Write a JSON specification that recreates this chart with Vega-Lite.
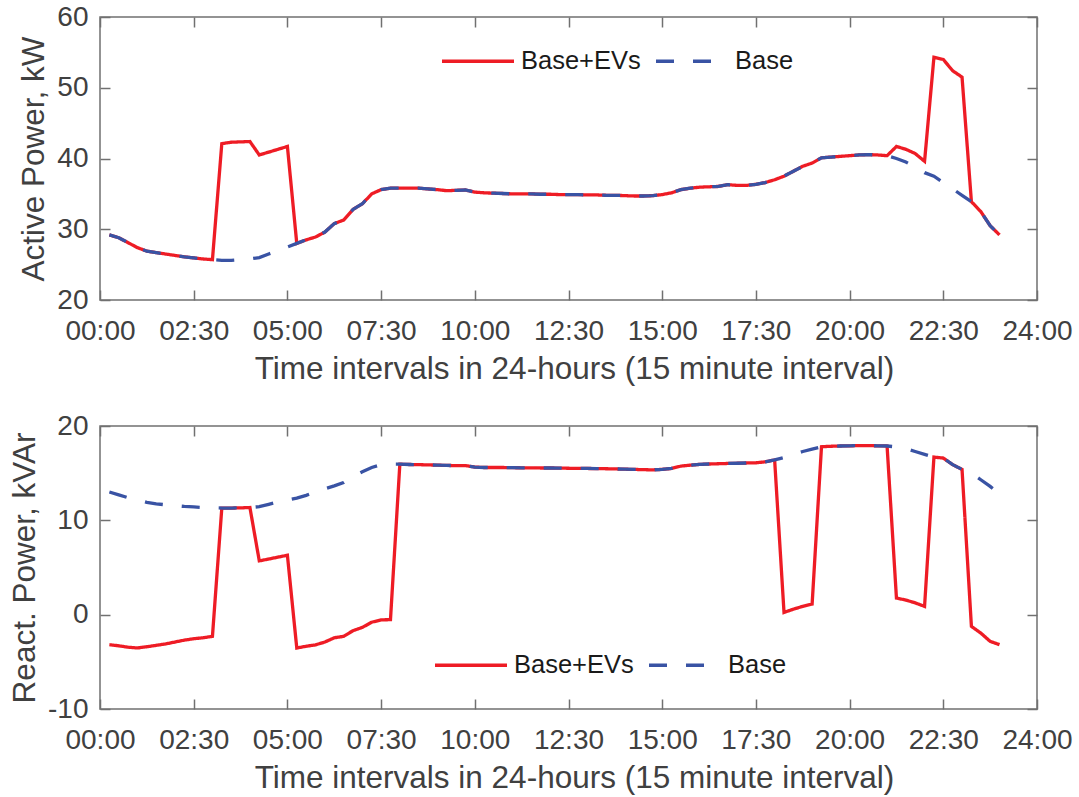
{
  "$schema": "https://vega.github.io/schema/vega-lite/v6.json",
  "background": "white",
  "padding": {"left": 8, "top": 2, "right": 10, "bottom": 5},
  "config": {
    "font": "Liberation Sans",
    "view": {"stroke": "#707070", "strokeWidth": 1.5},
    "axis": {"grid": false, "domain": false, "tickSize": 10, "offset": -10, "tickColor": "#707070", "tickWidth": 1.5,
      "labelOverlap": false, "labelFlush": false,
      "labelFontSize": 28, "labelColor": "#404040", "labelFont": "Liberation Sans",
      "titleFontSize": 31.5, "titleFontWeight": "normal", "titleColor": "#404040", "titleFont": "Liberation Sans"},
    "legend": {"labelFont": "Liberation Sans"}
  },
  "data": {"values": [
    {"t":1,"s":"Base","p":29.2,"q":13.0},{"t":2,"s":"Base","p":28.8,"q":12.7},{"t":3,"s":"Base","p":28.1,"q":12.4},{"t":4,"s":"Base","p":27.4,"q":12.15},{"t":5,"s":"Base","p":26.9,"q":11.9},{"t":6,"s":"Base","p":26.7,"q":11.75},{"t":7,"s":"Base","p":26.5,"q":11.65},{"t":8,"s":"Base","p":26.3,"q":11.55},{"t":9,"s":"Base","p":26.1,"q":11.47},{"t":10,"s":"Base","p":25.95,"q":11.42},
    {"t":11,"s":"Base","p":25.8,"q":11.36},{"t":12,"s":"Base","p":25.7,"q":11.33},{"t":13,"s":"Base","p":25.6,"q":11.3},{"t":14,"s":"Base","p":25.6,"q":11.3},{"t":15,"s":"Base","p":25.7,"q":11.32},{"t":16,"s":"Base","p":25.8,"q":11.36},{"t":17,"s":"Base","p":26.0,"q":11.45},{"t":18,"s":"Base","p":26.5,"q":11.7},{"t":19,"s":"Base","p":27.0,"q":11.95},{"t":20,"s":"Base","p":27.5,"q":12.15},
    {"t":21,"s":"Base","p":28.0,"q":12.35},{"t":22,"s":"Base","p":28.5,"q":12.65},{"t":23,"s":"Base","p":28.9,"q":13.0},{"t":24,"s":"Base","p":29.6,"q":13.35},{"t":25,"s":"Base","p":30.8,"q":13.65},{"t":26,"s":"Base","p":31.3,"q":14.0},{"t":27,"s":"Base","p":32.8,"q":14.65},{"t":28,"s":"Base","p":33.6,"q":15.15},{"t":29,"s":"Base","p":35.0,"q":15.6},{"t":30,"s":"Base","p":35.6,"q":15.9},
    {"t":31,"s":"Base","p":35.8,"q":15.95},{"t":32,"s":"Base","p":35.8,"q":15.95},{"t":33,"s":"Base","p":35.8,"q":15.92},{"t":34,"s":"Base","p":35.8,"q":15.9},{"t":35,"s":"Base","p":35.7,"q":15.88},{"t":36,"s":"Base","p":35.6,"q":15.85},{"t":37,"s":"Base","p":35.45,"q":15.82},{"t":38,"s":"Base","p":35.5,"q":15.8},{"t":39,"s":"Base","p":35.55,"q":15.8},{"t":40,"s":"Base","p":35.25,"q":15.65},
    {"t":41,"s":"Base","p":35.15,"q":15.6},{"t":42,"s":"Base","p":35.1,"q":15.6},{"t":43,"s":"Base","p":35.05,"q":15.6},{"t":44,"s":"Base","p":35.0,"q":15.58},{"t":45,"s":"Base","p":35.0,"q":15.57},{"t":46,"s":"Base","p":35.0,"q":15.56},{"t":47,"s":"Base","p":34.95,"q":15.55},{"t":48,"s":"Base","p":34.95,"q":15.55},{"t":49,"s":"Base","p":34.9,"q":15.54},{"t":50,"s":"Base","p":34.9,"q":15.52},
    {"t":51,"s":"Base","p":34.9,"q":15.5},{"t":52,"s":"Base","p":34.85,"q":15.5},{"t":53,"s":"Base","p":34.85,"q":15.48},{"t":54,"s":"Base","p":34.8,"q":15.47},{"t":55,"s":"Base","p":34.8,"q":15.45},{"t":56,"s":"Base","p":34.75,"q":15.42},{"t":57,"s":"Base","p":34.7,"q":15.4},{"t":58,"s":"Base","p":34.7,"q":15.37},{"t":59,"s":"Base","p":34.75,"q":15.35},{"t":60,"s":"Base","p":34.9,"q":15.4},
    {"t":61,"s":"Base","p":35.15,"q":15.5},{"t":62,"s":"Base","p":35.6,"q":15.75},{"t":63,"s":"Base","p":35.8,"q":15.85},{"t":64,"s":"Base","p":35.95,"q":15.93},{"t":65,"s":"Base","p":36.0,"q":15.97},{"t":66,"s":"Base","p":36.05,"q":16.0},{"t":67,"s":"Base","p":36.3,"q":16.03},{"t":68,"s":"Base","p":36.2,"q":16.05},{"t":69,"s":"Base","p":36.2,"q":16.08},{"t":70,"s":"Base","p":36.35,"q":16.1},
    {"t":71,"s":"Base","p":36.6,"q":16.2},{"t":72,"s":"Base","p":37.0,"q":16.4},{"t":73,"s":"Base","p":37.5,"q":16.65},{"t":74,"s":"Base","p":38.2,"q":17.0},{"t":75,"s":"Base","p":38.9,"q":17.3},{"t":76,"s":"Base","p":39.35,"q":17.55},{"t":77,"s":"Base","p":40.1,"q":17.8},{"t":78,"s":"Base","p":40.2,"q":17.85},{"t":79,"s":"Base","p":40.3,"q":17.88},{"t":80,"s":"Base","p":40.4,"q":17.9},
    {"t":81,"s":"Base","p":40.5,"q":17.92},{"t":82,"s":"Base","p":40.55,"q":17.92},{"t":83,"s":"Base","p":40.5,"q":17.9},{"t":84,"s":"Base","p":40.4,"q":17.88},{"t":85,"s":"Base","p":40.0,"q":17.78},{"t":86,"s":"Base","p":39.5,"q":17.6},{"t":87,"s":"Base","p":38.8,"q":17.3},{"t":88,"s":"Base","p":38.0,"q":17.0},{"t":89,"s":"Base","p":37.5,"q":16.7},{"t":90,"s":"Base","p":36.6,"q":16.6},
    {"t":91,"s":"Base","p":35.7,"q":15.9},{"t":92,"s":"Base","p":34.8,"q":15.4},{"t":93,"s":"Base","p":33.9,"q":15.0},{"t":94,"s":"Base","p":32.5,"q":14.3},{"t":95,"s":"Base","p":30.5,"q":13.6},{"t":96,"s":"Base","p":29.2,"q":12.8},

    {"t":1,"s":"Base+EVs","p":29.2,"q":-3.18},{"t":2,"s":"Base+EVs","p":28.8,"q":-3.3},{"t":3,"s":"Base+EVs","p":28.1,"q":-3.45},{"t":4,"s":"Base+EVs","p":27.4,"q":-3.53},{"t":5,"s":"Base+EVs","p":26.9,"q":-3.4},{"t":6,"s":"Base+EVs","p":26.7,"q":-3.25},{"t":7,"s":"Base+EVs","p":26.5,"q":-3.1},{"t":8,"s":"Base+EVs","p":26.3,"q":-2.9},{"t":9,"s":"Base+EVs","p":26.1,"q":-2.7},{"t":10,"s":"Base+EVs","p":25.95,"q":-2.55},
    {"t":11,"s":"Base+EVs","p":25.8,"q":-2.45},{"t":12,"s":"Base+EVs","p":25.7,"q":-2.3},{"t":13,"s":"Base+EVs","p":42.1,"q":11.3},{"t":14,"s":"Base+EVs","p":42.3,"q":11.3},{"t":15,"s":"Base+EVs","p":42.35,"q":11.32},{"t":16,"s":"Base+EVs","p":42.4,"q":11.36},{"t":17,"s":"Base+EVs","p":40.5,"q":5.7},{"t":18,"s":"Base+EVs","p":40.9,"q":5.9},{"t":19,"s":"Base+EVs","p":41.3,"q":6.1},{"t":20,"s":"Base+EVs","p":41.7,"q":6.3},
    {"t":21,"s":"Base+EVs","p":28.0,"q":-3.53},{"t":22,"s":"Base+EVs","p":28.5,"q":-3.35},{"t":23,"s":"Base+EVs","p":28.9,"q":-3.2},{"t":24,"s":"Base+EVs","p":29.6,"q":-2.9},{"t":25,"s":"Base+EVs","p":30.8,"q":-2.45},{"t":26,"s":"Base+EVs","p":31.3,"q":-2.3},{"t":27,"s":"Base+EVs","p":32.8,"q":-1.7},{"t":28,"s":"Base+EVs","p":33.6,"q":-1.35},{"t":29,"s":"Base+EVs","p":35.0,"q":-0.8},{"t":30,"s":"Base+EVs","p":35.6,"q":-0.55},
    {"t":31,"s":"Base+EVs","p":35.8,"q":-0.53},{"t":32,"s":"Base+EVs","p":35.8,"q":15.95},{"t":33,"s":"Base+EVs","p":35.8,"q":15.92},{"t":34,"s":"Base+EVs","p":35.8,"q":15.9},{"t":35,"s":"Base+EVs","p":35.7,"q":15.88},{"t":36,"s":"Base+EVs","p":35.6,"q":15.85},{"t":37,"s":"Base+EVs","p":35.45,"q":15.82},{"t":38,"s":"Base+EVs","p":35.5,"q":15.8},{"t":39,"s":"Base+EVs","p":35.55,"q":15.8},{"t":40,"s":"Base+EVs","p":35.25,"q":15.65},
    {"t":41,"s":"Base+EVs","p":35.15,"q":15.6},{"t":42,"s":"Base+EVs","p":35.1,"q":15.6},{"t":43,"s":"Base+EVs","p":35.05,"q":15.6},{"t":44,"s":"Base+EVs","p":35.0,"q":15.58},{"t":45,"s":"Base+EVs","p":35.0,"q":15.57},{"t":46,"s":"Base+EVs","p":35.0,"q":15.56},{"t":47,"s":"Base+EVs","p":34.95,"q":15.55},{"t":48,"s":"Base+EVs","p":34.95,"q":15.55},{"t":49,"s":"Base+EVs","p":34.9,"q":15.54},{"t":50,"s":"Base+EVs","p":34.9,"q":15.52},
    {"t":51,"s":"Base+EVs","p":34.9,"q":15.5},{"t":52,"s":"Base+EVs","p":34.85,"q":15.5},{"t":53,"s":"Base+EVs","p":34.85,"q":15.48},{"t":54,"s":"Base+EVs","p":34.8,"q":15.47},{"t":55,"s":"Base+EVs","p":34.8,"q":15.45},{"t":56,"s":"Base+EVs","p":34.75,"q":15.42},{"t":57,"s":"Base+EVs","p":34.7,"q":15.4},{"t":58,"s":"Base+EVs","p":34.7,"q":15.37},{"t":59,"s":"Base+EVs","p":34.75,"q":15.35},{"t":60,"s":"Base+EVs","p":34.9,"q":15.4},
    {"t":61,"s":"Base+EVs","p":35.15,"q":15.5},{"t":62,"s":"Base+EVs","p":35.6,"q":15.75},{"t":63,"s":"Base+EVs","p":35.8,"q":15.85},{"t":64,"s":"Base+EVs","p":35.95,"q":15.93},{"t":65,"s":"Base+EVs","p":36.0,"q":15.97},{"t":66,"s":"Base+EVs","p":36.05,"q":16.0},{"t":67,"s":"Base+EVs","p":36.3,"q":16.03},{"t":68,"s":"Base+EVs","p":36.2,"q":16.05},{"t":69,"s":"Base+EVs","p":36.2,"q":16.08},{"t":70,"s":"Base+EVs","p":36.35,"q":16.1},
    {"t":71,"s":"Base+EVs","p":36.6,"q":16.2},{"t":72,"s":"Base+EVs","p":37.0,"q":16.4},{"t":73,"s":"Base+EVs","p":37.5,"q":0.24},{"t":74,"s":"Base+EVs","p":38.2,"q":0.58},{"t":75,"s":"Base+EVs","p":38.9,"q":0.88},{"t":76,"s":"Base+EVs","p":39.35,"q":1.12},{"t":77,"s":"Base+EVs","p":40.1,"q":17.8},{"t":78,"s":"Base+EVs","p":40.2,"q":17.85},{"t":79,"s":"Base+EVs","p":40.3,"q":17.88},{"t":80,"s":"Base+EVs","p":40.4,"q":17.9},
    {"t":81,"s":"Base+EVs","p":40.5,"q":17.92},{"t":82,"s":"Base+EVs","p":40.55,"q":17.92},{"t":83,"s":"Base+EVs","p":40.5,"q":17.9},{"t":84,"s":"Base+EVs","p":40.4,"q":17.88},{"t":85,"s":"Base+EVs","p":41.7,"q":1.76},{"t":86,"s":"Base+EVs","p":41.3,"q":1.55},{"t":87,"s":"Base+EVs","p":40.7,"q":1.25},{"t":88,"s":"Base+EVs","p":39.6,"q":0.88},{"t":89,"s":"Base+EVs","p":54.3,"q":16.7},{"t":90,"s":"Base+EVs","p":54.0,"q":16.6},
    {"t":91,"s":"Base+EVs","p":52.4,"q":15.9},{"t":92,"s":"Base+EVs","p":51.5,"q":15.4},{"t":93,"s":"Base+EVs","p":33.9,"q":-1.24},{"t":94,"s":"Base+EVs","p":32.5,"q":-1.95},{"t":95,"s":"Base+EVs","p":30.5,"q":-2.83},{"t":96,"s":"Base+EVs","p":29.2,"q":-3.18}
  ]},
  "bounds": "flush",
  "spacing": 126,
  "resolve": {"scale": {"color": "independent", "strokeDash": "independent"}},
  "vconcat": [
    {
      "width": 937, "height": 283,
      "layer": [
        {
          "transform": [{"filter": "datum.s == 'Base+EVs'"}],
          "mark": {"type": "line", "strokeWidth": 3.3},
          "encoding": {
            "x": {"field": "t", "type": "quantitative", "scale": {"domain": [0, 100], "nice": false},
              "axis": {"orient": "bottom", "values": [0,10,20,30,40,50,60,70,80,90,100], "labelExpr": "['00:00','02:30','05:00','07:30','10:00','12:30','15:00','17:30','20:00','22:30','24:00'][round(datum.value/10)]", "labelPadding": 17, "titlePadding": 8, "titleX": 474, "title": "Time intervals in 24-hours (15 minute interval)"}},
            "y": {"field": "p", "type": "quantitative", "scale": {"domain": [20, 60], "nice": false, "zero": false},
              "axis": {"orient": "left", "values": [20,30,40,50,60], "labelExpr": "'' + datum.value", "labelPadding": 12, "titlePadding": 6.5, "title": "Active Power, kW"}},
            "color": {"field": "s", "type": "nominal", "scale": {"domain": ["Base+EVs", "Base"], "range": ["#EE1C25", "#3953A4"]},
              "legend": {"orient": "none", "legendX": 340, "legendY": 6, "direction": "horizontal", "title": null, "symbolType": "stroke", "symbolSize": 5184, "symbolStrokeWidth": 3.3, "labelFontSize": 25.5, "labelColor": "#1a1a1a", "labelOffset": 5, "columnPadding": 8, "padding": 0}},
            "strokeDash": {"field": "s", "type": "nominal", "scale": {"domain": ["Base+EVs", "Base"], "range": [[1, 0], [18, 19]]},
              "legend": {"orient": "none", "legendX": 340, "legendY": 6, "direction": "horizontal", "title": null, "symbolType": "stroke", "symbolSize": 5184, "symbolStrokeWidth": 3.3, "labelFontSize": 25.5, "labelColor": "#1a1a1a", "labelOffset": 5, "columnPadding": 8, "padding": 0}}
          }
        },
        {
          "transform": [{"filter": "datum.s == 'Base'"}],
          "mark": {"type": "line", "strokeWidth": 3.3},
          "encoding": {
            "x": {"field": "t", "type": "quantitative", "scale": {"domain": [0, 100], "nice": false},
              "axis": {"orient": "top", "values": [0,10,20,30,40,50,60,70,80,90,100], "labels": false, "title": null}},
            "y": {"field": "p", "type": "quantitative", "scale": {"domain": [20, 60], "nice": false, "zero": false},
              "axis": {"orient": "right", "values": [20,30,40,50,60], "labels": false, "title": null}},
            "color": {"field": "s", "type": "nominal", "scale": {"domain": ["Base+EVs", "Base"], "range": ["#EE1C25", "#3953A4"]}},
            "strokeDash": {"field": "s", "type": "nominal", "scale": {"domain": ["Base+EVs", "Base"], "range": [[1, 0], [18, 19]]}}
          }
        }
      ],
      "resolve": {"axis": {"x": "independent", "y": "independent"}}
    },
    {
      "width": 937, "height": 283,
      "layer": [
        {
          "transform": [{"filter": "datum.s == 'Base+EVs'"}],
          "mark": {"type": "line", "strokeWidth": 3.3},
          "encoding": {
            "x": {"field": "t", "type": "quantitative", "scale": {"domain": [0, 100], "nice": false},
              "axis": {"orient": "bottom", "values": [0,10,20,30,40,50,60,70,80,90,100], "labelExpr": "['00:00','02:30','05:00','07:30','10:00','12:30','15:00','17:30','20:00','22:30','24:00'][round(datum.value/10)]", "labelPadding": 17, "titlePadding": 8, "titleX": 474, "title": "Time intervals in 24-hours (15 minute interval)"}},
            "y": {"field": "q", "type": "quantitative", "scale": {"domain": [-10, 20], "nice": false, "zero": false},
              "axis": {"orient": "left", "values": [-10,0,10,20], "labelExpr": "'' + datum.value", "labelPadding": 12, "titlePadding": 6.5, "title": "React. Power, kVAr"}},
            "color": {"field": "s", "type": "nominal", "scale": {"domain": ["Base+EVs", "Base"], "range": ["#EE1C25", "#3953A4"]},
              "legend": {"orient": "none", "legendX": 333, "legendY": 201, "direction": "horizontal", "title": null, "symbolType": "stroke", "symbolSize": 5184, "symbolStrokeWidth": 3.3, "labelFontSize": 25.5, "labelColor": "#1a1a1a", "labelOffset": 5, "columnPadding": 8, "padding": 0}},
            "strokeDash": {"field": "s", "type": "nominal", "scale": {"domain": ["Base+EVs", "Base"], "range": [[1, 0], [18, 19]]},
              "legend": {"orient": "none", "legendX": 333, "legendY": 201, "direction": "horizontal", "title": null, "symbolType": "stroke", "symbolSize": 5184, "symbolStrokeWidth": 3.3, "labelFontSize": 25.5, "labelColor": "#1a1a1a", "labelOffset": 5, "columnPadding": 8, "padding": 0}}
          }
        },
        {
          "transform": [{"filter": "datum.s == 'Base'"}],
          "mark": {"type": "line", "strokeWidth": 3.3},
          "encoding": {
            "x": {"field": "t", "type": "quantitative", "scale": {"domain": [0, 100], "nice": false},
              "axis": {"orient": "top", "values": [0,10,20,30,40,50,60,70,80,90,100], "labels": false, "title": null}},
            "y": {"field": "q", "type": "quantitative", "scale": {"domain": [-10, 20], "nice": false, "zero": false},
              "axis": {"orient": "right", "values": [-10,0,10,20], "labels": false, "title": null}},
            "color": {"field": "s", "type": "nominal", "scale": {"domain": ["Base+EVs", "Base"], "range": ["#EE1C25", "#3953A4"]}},
            "strokeDash": {"field": "s", "type": "nominal", "scale": {"domain": ["Base+EVs", "Base"], "range": [[1, 0], [18, 19]]}}
          }
        }
      ],
      "resolve": {"axis": {"x": "independent", "y": "independent"}}
    }
  ]
}
